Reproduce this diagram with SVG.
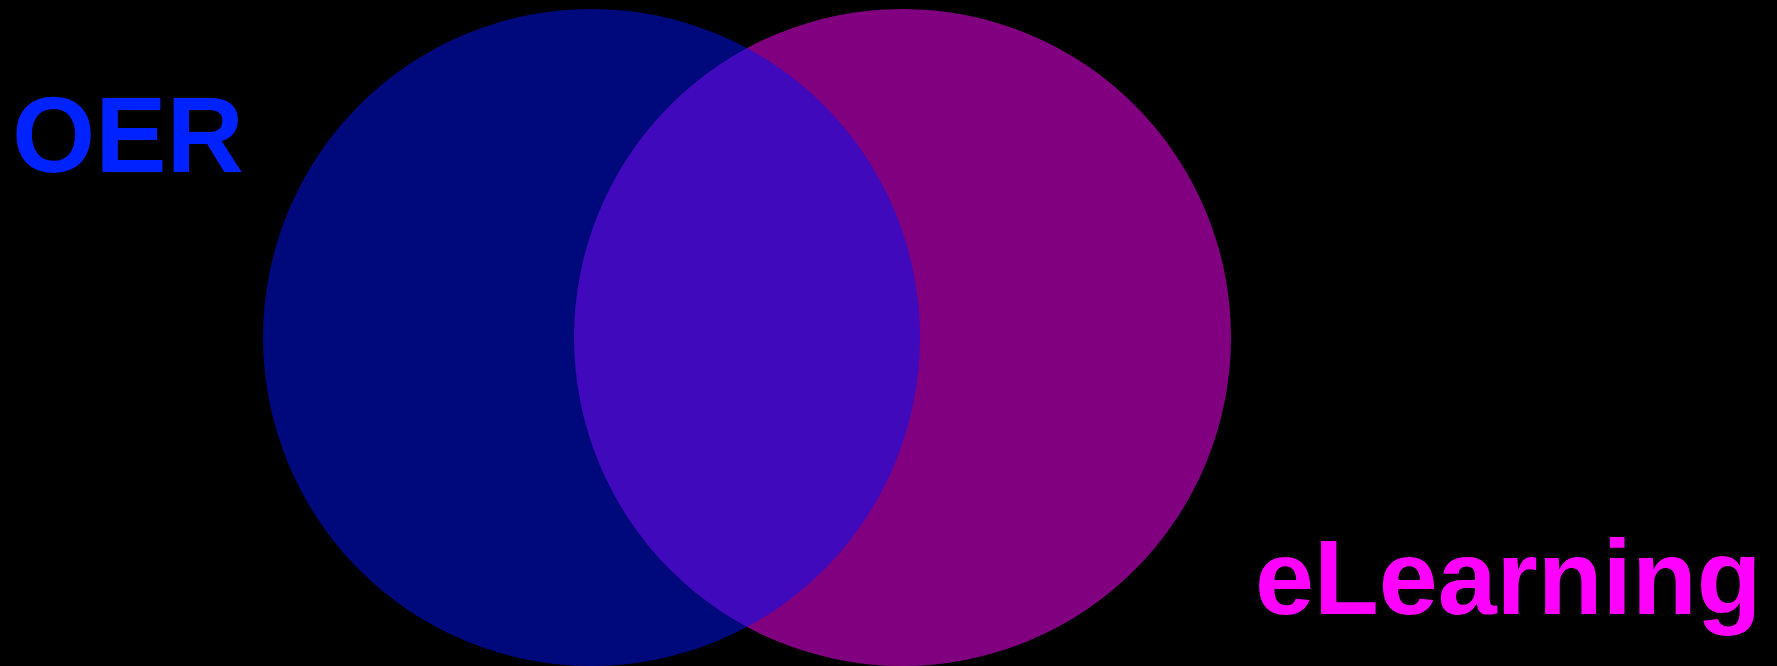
<svg xmlns="http://www.w3.org/2000/svg" width="1777" height="666" viewBox="0 0 1777 666">
<style>
.lbl{font-family:"Liberation Sans",Arial,sans-serif;font-weight:bold}
</style>
<rect x="0" y="0" width="1777" height="666" fill="#000000"/>
<g id="elearning-set">
<circle cx="902.5" cy="337.5" r="328.5" fill="#ff00ff" fill-opacity="0.5"/>
</g>
<g id="oer-set">
<circle cx="591.5" cy="337.5" r="328.5" fill="#0012f5" fill-opacity="0.5"/>
</g>
<g id="oer-label">
<text class="lbl" x="12" y="172" font-size="107" fill="#0022ff">OER</text>
</g>
<g id="elearning-label">
<text class="lbl" x="1255" y="614" font-size="106" fill="#ff00ff">eLearning</text>
</g>
<g id="connectors"></g>
</svg>
